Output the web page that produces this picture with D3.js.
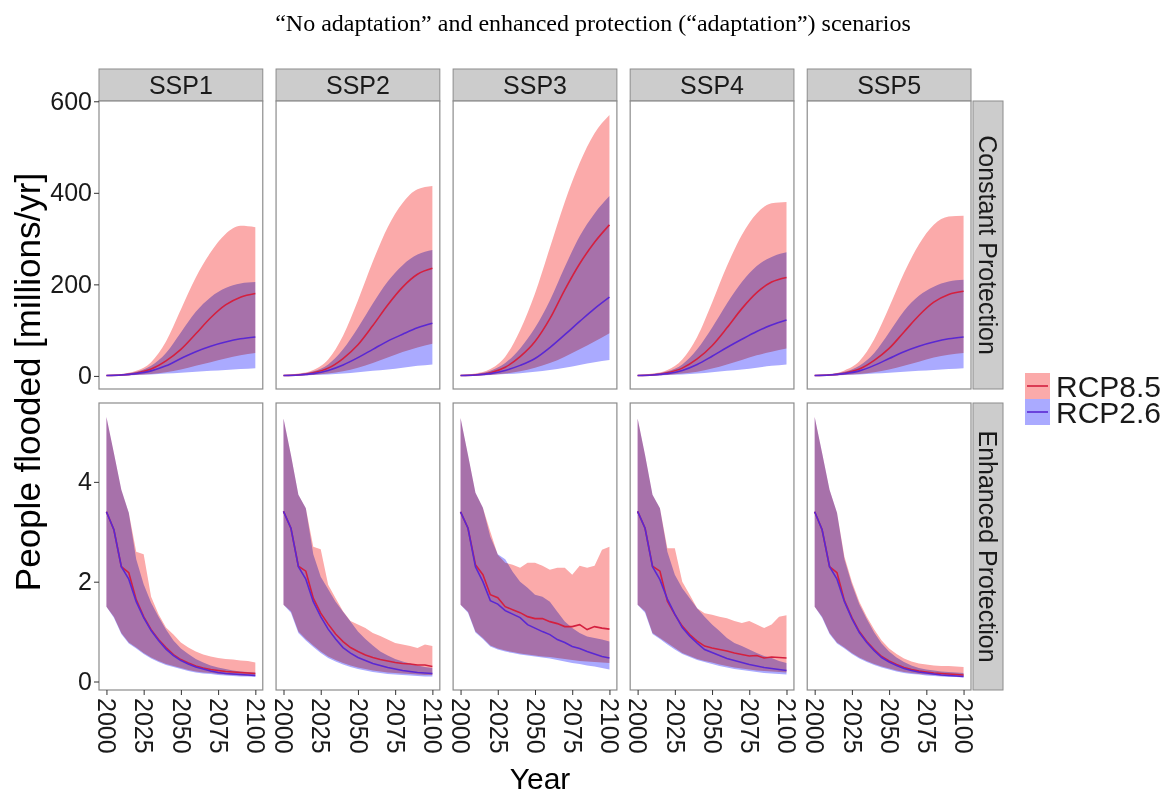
<!DOCTYPE html>
<html>
<head>
<meta charset="utf-8">
<script src="https://cdn.jsdelivr.net/npm/d3@7"></script>
<style>
  body { margin: 0; background: #fff; }
  text { font-family: "Liberation Sans", Arial, sans-serif; }
</style>
</head>
<body>
<div id="chart"></div>
<script>
// categories and ticks
var title = "\u201cNo adaptation\u201d and enhanced protection (\u201cadaptation\u201d) scenarios";
var ssps = ["SSP1", "SSP2", "SSP3", "SSP4", "SSP5"];
var protections = ["Constant Protection", "Enhanced Protection"];
var scenarios = ["RCP8.5", "RCP2.6"];
var yearsConst = [2000, 2010, 2020, 2030, 2040, 2050, 2060, 2070, 2080, 2090, 2100];
var yearsEnh = [2000, 2005, 2010, 2015, 2020, 2025, 2030, 2035, 2040, 2045, 2050,
                2055, 2060, 2065, 2070, 2075, 2080, 2085, 2090, 2095, 2100];
var xTicks = [2000, 2025, 2050, 2075, 2100];
var yTicksConst = [0, 200, 400, 600];
var yTicksEnh = [0, 2, 4];

// Constant protection, millions/yr, one row per SSP (10-year steps)
var constRcp85Mean = [
  [1, 2, 6, 15, 33, 58, 92, 127, 155, 172, 180],
  [1, 2, 7, 17, 38, 68, 110, 155, 194, 222, 235],
  [1, 2, 7, 19, 42, 75, 125, 188, 245, 292, 330],
  [1, 2, 7, 17, 37, 66, 105, 147, 182, 205, 215],
  [1, 2, 6, 15, 34, 60, 96, 132, 161, 178, 185]
];
var constRcp85Lo = [
  [0.5, 1, 2, 4, 8, 14, 22, 30, 38, 45, 50],
  [0.5, 1, 2, 5, 10, 18, 28, 40, 52, 62, 70],
  [0.5, 1, 2, 5, 10, 18, 28, 42, 58, 75, 93],
  [0.5, 1, 2, 5, 9, 16, 25, 35, 45, 53, 60],
  [0.5, 1, 2, 4, 8, 14, 22, 31, 40, 46, 50]
];
var constRcp85Hi = [
  [2, 4, 11, 30, 75, 145, 215, 270, 310, 328, 325],
  [2, 5, 13, 36, 88, 165, 250, 325, 378, 408, 415],
  [2, 5, 15, 42, 100, 180, 280, 380, 465, 530, 570],
  [2, 5, 13, 36, 85, 160, 240, 308, 355, 377, 380],
  [2, 4, 12, 32, 80, 150, 225, 287, 330, 348, 350]
];
var constRcp26Mean = [
  [1, 2, 5, 11, 22, 38, 53, 65, 74, 81, 85],
  [1, 2, 5, 12, 24, 40, 58, 76, 91, 105, 115],
  [1, 2, 5, 12, 23, 38, 62, 90, 119, 147, 172],
  [1, 2, 5, 12, 25, 43, 62, 80, 97, 111, 122],
  [1, 2, 5, 11, 23, 38, 53, 65, 74, 81, 85]
];
var constRcp26Lo = [
  [0.5, 1, 2, 3, 5, 7, 9, 11, 13, 15, 17],
  [0.5, 1, 2, 3, 5, 8, 11, 14, 18, 22, 25],
  [0.5, 1, 2, 4, 6, 9, 13, 18, 24, 30, 35],
  [0.5, 1, 2, 3, 5, 8, 11, 14, 18, 22, 25],
  [0.5, 1, 2, 3, 5, 7, 9, 11, 13, 15, 17]
];
var constRcp26Hi = [
  [2, 4, 9, 22, 50, 95, 140, 172, 192, 202, 205],
  [2, 4, 10, 25, 58, 105, 158, 206, 242, 265, 275],
  [2, 4, 11, 28, 60, 105, 165, 238, 305, 355, 393],
  [2, 4, 10, 25, 58, 105, 158, 205, 240, 260, 270],
  [2, 4, 9, 22, 50, 95, 142, 175, 195, 206, 210]
];

// Enhanced protection, millions/yr, one row per SSP (5-year steps)
var enhRcp85Mean = [
  [3.4, 3.04, 2.3, 2.18, 1.64, 1.3, 1.04, 0.84, 0.68, 0.54, 0.44, 0.37, 0.31, 0.27, 0.24, 0.22, 0.2, 0.19, 0.18, 0.17, 0.16],
  [3.41, 3.07, 2.31, 2.21, 1.67, 1.37, 1.15, 0.95, 0.8, 0.68, 0.6, 0.53, 0.48, 0.44, 0.41, 0.38, 0.36, 0.35, 0.33, 0.33, 0.3],
  [3.4, 3.07, 2.34, 2.14, 1.74, 1.68, 1.5, 1.44, 1.38, 1.3, 1.26, 1.26, 1.2, 1.16, 1.1, 1.1, 1.14, 1.04, 1.1, 1.07, 1.05],
  [3.41, 3.07, 2.31, 2.21, 1.61, 1.34, 1.11, 0.94, 0.81, 0.71, 0.67, 0.64, 0.61, 0.57, 0.54, 0.51, 0.52, 0.47, 0.49, 0.48, 0.47],
  [3.4, 3.04, 2.3, 2.18, 1.62, 1.28, 1.0, 0.8, 0.64, 0.5, 0.41, 0.34, 0.28, 0.24, 0.21, 0.19, 0.17, 0.16, 0.15, 0.14, 0.13]
];
var enhRcp85Lo = [
  [1.5, 1.3, 0.97, 0.78, 0.68, 0.57, 0.48, 0.41, 0.35, 0.31, 0.27, 0.23, 0.2, 0.18, 0.17, 0.15, 0.14, 0.13, 0.12, 0.12, 0.12],
  [1.54, 1.41, 1.0, 0.85, 0.72, 0.6, 0.5, 0.43, 0.37, 0.32, 0.28, 0.25, 0.22, 0.2, 0.18, 0.17, 0.16, 0.15, 0.14, 0.13, 0.13],
  [1.54, 1.4, 1.0, 0.87, 0.72, 0.66, 0.62, 0.59, 0.56, 0.54, 0.52, 0.5, 0.49, 0.47, 0.45, 0.43, 0.41, 0.4, 0.39, 0.38, 0.37],
  [1.54, 1.41, 0.97, 0.87, 0.77, 0.67, 0.57, 0.51, 0.45, 0.41, 0.38, 0.34, 0.31, 0.28, 0.26, 0.24, 0.22, 0.21, 0.2, 0.19, 0.18],
  [1.5, 1.3, 0.97, 0.78, 0.68, 0.57, 0.48, 0.41, 0.35, 0.3, 0.26, 0.22, 0.19, 0.17, 0.15, 0.14, 0.13, 0.12, 0.11, 0.11, 0.1]
];
var enhRcp85Hi = [
  [5.3, 4.58, 3.84, 3.38, 2.6, 2.55, 1.7, 1.35, 1.08, 0.94, 0.78, 0.68, 0.6, 0.54, 0.5, 0.47, 0.45, 0.44, 0.42, 0.41, 0.38],
  [5.27, 4.54, 3.74, 3.47, 2.7, 2.65, 1.94, 1.67, 1.41, 1.21, 1.14, 1.07, 0.97, 0.91, 0.84, 0.77, 0.74, 0.71, 0.67, 0.74, 0.71],
  [5.28, 4.54, 3.78, 3.48, 3.0, 2.54, 2.38, 2.34, 2.28, 2.38, 2.38, 2.32, 2.24, 2.28, 2.28, 2.14, 2.32, 2.28, 2.32, 2.64, 2.7],
  [5.27, 4.54, 3.74, 3.47, 2.67, 2.67, 2.0, 1.74, 1.47, 1.37, 1.34, 1.3, 1.27, 1.21, 1.17, 1.21, 1.14, 1.07, 1.14, 1.3, 1.33],
  [5.3, 4.58, 3.84, 3.38, 2.5, 2.0, 1.6, 1.3, 1.04, 0.82, 0.66, 0.55, 0.46, 0.4, 0.36, 0.34, 0.32, 0.31, 0.31, 0.3, 0.29]
];
var enhRcp26Mean = [
  [3.4, 3.04, 2.3, 2.05, 1.6, 1.28, 1.02, 0.82, 0.65, 0.52, 0.42, 0.35, 0.29, 0.25, 0.21, 0.18, 0.16, 0.15, 0.14, 0.13, 0.12],
  [3.41, 3.07, 2.3, 2.05, 1.6, 1.3, 1.05, 0.85, 0.68, 0.57, 0.48, 0.42, 0.36, 0.32, 0.28, 0.25, 0.22, 0.2, 0.18, 0.17, 0.16],
  [3.4, 3.07, 2.3, 2.0, 1.62, 1.55, 1.42, 1.35, 1.28, 1.14, 1.07, 1.0, 0.94, 0.84, 0.78, 0.7, 0.66, 0.6, 0.55, 0.5, 0.47],
  [3.41, 3.07, 2.3, 2.04, 1.65, 1.35, 1.08, 0.91, 0.77, 0.64, 0.58, 0.52, 0.46, 0.42, 0.38, 0.34, 0.31, 0.28, 0.26, 0.24, 0.22],
  [3.4, 3.04, 2.3, 2.05, 1.6, 1.26, 0.98, 0.78, 0.62, 0.48, 0.39, 0.32, 0.26, 0.22, 0.19, 0.17, 0.15, 0.13, 0.12, 0.11, 0.1]
];
var enhRcp26Lo = [
  [1.5, 1.28, 0.95, 0.76, 0.66, 0.55, 0.46, 0.39, 0.33, 0.29, 0.25, 0.21, 0.18, 0.16, 0.15, 0.13, 0.12, 0.11, 0.1, 0.1, 0.09],
  [1.54, 1.38, 0.97, 0.82, 0.69, 0.57, 0.47, 0.4, 0.34, 0.29, 0.25, 0.22, 0.19, 0.17, 0.15, 0.14, 0.13, 0.12, 0.11, 0.1, 0.1],
  [1.54, 1.38, 0.98, 0.85, 0.7, 0.64, 0.6, 0.57, 0.54, 0.52, 0.5, 0.48, 0.46, 0.43, 0.4, 0.37, 0.35, 0.32, 0.3, 0.27, 0.24],
  [1.54, 1.38, 0.95, 0.85, 0.74, 0.64, 0.55, 0.49, 0.43, 0.39, 0.35, 0.31, 0.28, 0.25, 0.23, 0.21, 0.19, 0.17, 0.16, 0.15, 0.14],
  [1.5, 1.28, 0.95, 0.76, 0.66, 0.55, 0.46, 0.39, 0.33, 0.28, 0.24, 0.2, 0.17, 0.15, 0.14, 0.12, 0.11, 0.1, 0.09, 0.09, 0.08]
];
var enhRcp26Hi = [
  [5.3, 4.58, 3.84, 3.38, 2.45, 1.95, 1.58, 1.3, 1.04, 0.82, 0.66, 0.55, 0.45, 0.38, 0.32, 0.28, 0.25, 0.22, 0.2, 0.19, 0.18],
  [5.27, 4.54, 3.74, 3.47, 2.55, 2.1, 1.85, 1.6, 1.4, 1.2, 1.0, 0.85, 0.72, 0.6, 0.52, 0.45, 0.4, 0.36, 0.32, 0.29, 0.27],
  [5.28, 4.54, 3.78, 3.48, 2.9, 2.55, 2.45, 2.2, 2.0, 1.88, 1.74, 1.7, 1.6, 1.4, 1.2, 1.07, 0.97, 0.9, 0.87, 0.84, 0.8],
  [5.27, 4.54, 3.74, 3.47, 2.6, 2.14, 1.87, 1.67, 1.47, 1.3, 1.14, 1.01, 0.87, 0.77, 0.71, 0.64, 0.57, 0.51, 0.47, 0.41, 0.37],
  [5.3, 4.58, 3.84, 3.38, 2.45, 1.95, 1.55, 1.25, 0.98, 0.76, 0.6, 0.48, 0.39, 0.32, 0.27, 0.24, 0.22, 0.2, 0.19, 0.18, 0.17]
];

var bandColors = ["#fbaaaa", "#aaaaff"];
var lineColors = ["#d4203f", "#5a28d2"];

// svg
var width = 1173, height = 794;
var svg = d3.select("#chart").append("svg")
  .attr("width", width)
  .attr("height", height);

svg.append("text")
  .attr("x", 593).attr("y", 31)
  .attr("text-anchor", "middle")
  .style("font-family", "'Liberation Serif', 'Times New Roman', serif")
  .style("font-size", "24px")
  .style("fill", "#000")
  .text(title);

// panel columns
var xPanel = d3.scaleBand().domain(ssps).range([99, 971]).paddingInner(0.075);
var pw = xPanel.bandwidth();

var rows = [
  { name: protections[0], top: 101, bottom: 389, years: yearsConst, domain: [-28.6, 600.6],
    ticks: yTicksConst, curve: d3.curveMonotoneX,
    series: [
      { lo: constRcp85Lo, hi: constRcp85Hi, mean: constRcp85Mean },
      { lo: constRcp26Lo, hi: constRcp26Hi, mean: constRcp26Mean }
    ] },
  { name: protections[1], top: 403, bottom: 690, years: yearsEnh, domain: [-0.17, 5.58],
    ticks: yTicksEnh, curve: d3.curveLinear,
    series: [
      { lo: enhRcp85Lo, hi: enhRcp85Hi, mean: enhRcp85Mean },
      { lo: enhRcp26Lo, hi: enhRcp26Hi, mean: enhRcp26Mean }
    ] }
];

// top strips
ssps.forEach(function(s) {
  svg.append("rect")
    .attr("x", xPanel(s)).attr("y", 69)
    .attr("width", pw).attr("height", 32)
    .style("fill", "#cccccc").style("stroke", "#8c8c8c").style("stroke-width", 1);
  svg.append("text")
    .attr("x", xPanel(s) + pw / 2).attr("y", 94)
    .attr("text-anchor", "middle")
    .style("font-size", "25px").style("fill", "#1a1a1a")
    .text(s);
});

rows.forEach(function(row, r) {
  var y = d3.scaleLinear().domain(row.domain).range([row.bottom, row.top]);

  ssps.forEach(function(s, i) {
    var x = d3.scaleLinear().domain([1995, 2105]).range([xPanel(s), xPanel(s) + pw]);

    svg.append("rect")
      .attr("x", xPanel(s)).attr("y", row.top)
      .attr("width", pw).attr("height", row.bottom - row.top)
      .style("fill", "#fff");

    var bands = svg.append("g").style("isolation", "isolate");
    row.series.forEach(function(ser, k) {
      var pts = row.years.map(function(yr, j) {
        return { year: yr, lo: ser.lo[i][j], hi: ser.hi[i][j] };
      });
      bands.append("path")
        .datum(pts)
        .attr("d", d3.area().curve(row.curve)
          .x(function(d) { return x(d.year); })
          .y0(function(d) { return y(d.lo); })
          .y1(function(d) { return y(d.hi); }))
        .style("fill", bandColors[k])
        .style("mix-blend-mode", "multiply");
    });

    row.series.forEach(function(ser, k) {
      var pts = row.years.map(function(yr, j) { return { year: yr, v: ser.mean[i][j] }; });
      svg.append("path")
        .datum(pts)
        .attr("d", d3.line().curve(row.curve)
          .x(function(d) { return x(d.year); })
          .y(function(d) { return y(d.v); }))
        .style("fill", "none")
        .style("stroke", lineColors[k])
        .style("stroke-width", 1.6);
    });

    svg.append("rect")
      .attr("x", xPanel(s)).attr("y", row.top)
      .attr("width", pw).attr("height", row.bottom - row.top)
      .style("fill", "none").style("stroke", "#8c8c8c").style("stroke-width", 1.2);

    // x axis only under the bottom row
    if (r == rows.length - 1) {
      var gx = svg.append("g")
        .attr("transform", "translate(0," + row.bottom + ")")
        .call(d3.axisBottom(x).tickValues(xTicks).tickSize(5).tickFormat(d3.format("d")));
      gx.select(".domain").remove();
      gx.selectAll(".tick line").style("stroke", "#333");
      gx.selectAll(".tick text")
        .attr("transform", "rotate(90)")
        .attr("x", 8).attr("y", 0).attr("dy", "0.35em")
        .attr("text-anchor", "start")
        .style("font-size", "25px").style("fill", "#1a1a1a")
        .style("font-family", "'Liberation Sans', Arial, sans-serif");
    }
  });

  // y axis on first column
  var gy = svg.append("g")
    .attr("transform", "translate(" + xPanel(ssps[0]) + ",0)")
    .call(d3.axisLeft(y).tickValues(row.ticks).tickSize(5).tickPadding(2).tickFormat(d3.format("d")));
  gy.select(".domain").remove();
  gy.selectAll(".tick line").style("stroke", "#333");
  gy.selectAll(".tick text")
    .style("font-size", "25px").style("fill", "#1a1a1a")
    .style("font-family", "'Liberation Sans', Arial, sans-serif");

  // right strip
  svg.append("rect")
    .attr("x", 973).attr("y", row.top)
    .attr("width", 30).attr("height", row.bottom - row.top)
    .style("fill", "#cccccc").style("stroke", "#8c8c8c").style("stroke-width", 1);
  svg.append("text")
    .attr("transform", "translate(988," + (row.top + row.bottom) / 2 + ") rotate(90)")
    .attr("text-anchor", "middle").attr("dy", "0.35em")
    .style("font-size", "25px").style("fill", "#1a1a1a")
    .text(row.name);
});

// axis titles
svg.append("text")
  .attr("transform", "translate(40,382) rotate(-90)")
  .attr("text-anchor", "middle")
  .style("font-size", "35px").style("fill", "#000")
  .text("People flooded [millions/yr]");

svg.append("text")
  .attr("x", 540).attr("y", 789)
  .attr("text-anchor", "middle")
  .style("font-size", "30px").style("fill", "#000")
  .text("Year");

// legend
var legend = svg.append("g").attr("transform", "translate(1025,373)");
scenarios.forEach(function(sc, k) {
  var g = legend.append("g").attr("transform", "translate(0," + k * 26 + ")");
  g.append("rect").attr("width", 25).attr("height", 26).style("fill", bandColors[k]);
  g.append("line").attr("x1", 2).attr("x2", 23).attr("y1", 13).attr("y2", 13)
    .style("stroke", lineColors[k]).style("stroke-width", 1.6);
  g.append("text").attr("x", 31).attr("y", 24)
    .style("font-size", "30px").style("fill", "#1a1a1a")
    .text(sc);
});
</script>
</body>
</html>
